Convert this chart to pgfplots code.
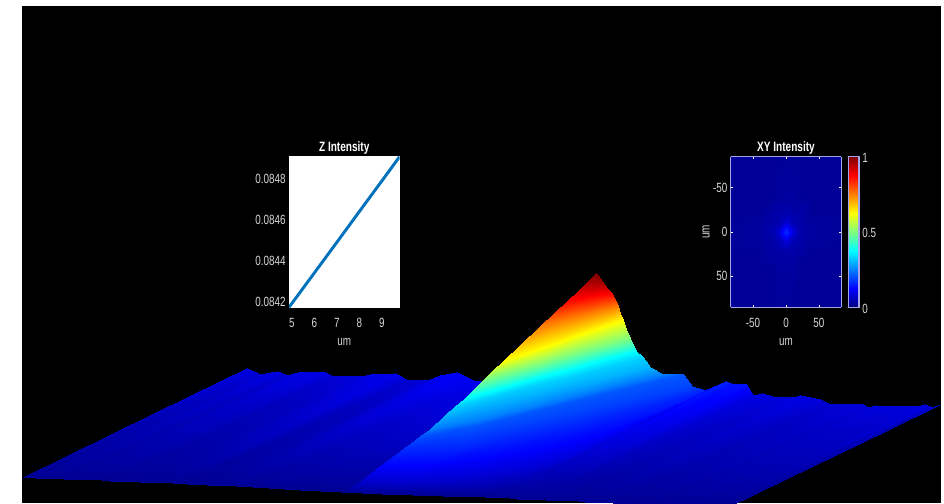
\documentclass[border=0pt]{standalone}
\usepackage{fontspec}
\setmainfont[FakeStretch=0.74]{Liberation Sans}
\usepackage{pgfplots}
\pgfplotsset{compat=1.18}
\definecolor{framelav}{RGB}{165,165,235}
\definecolor{labgrey}{RGB}{215,215,215}
\definecolor{zline}{RGB}{0,114,189}
\pgfplotsset{
  /pgf/number format/assume math mode=true,
  inset/.style={
    scale only axis, anchor=south west,
    every axis title shift=0pt,
    tick label style={font=\fontsize{10}{11}\selectfont, text=labgrey},
    label style={font=\fontsize{10}{11}\selectfont, text=labgrey},
    title style={font=\fontsize{10.2}{11}\selectfont\bfseries, text=white, at={(axis description cs:0.5,1.056)}, anchor=center},
    xlabel style={at={(axis description cs:0.5,-0.232)}, anchor=center},
    xticklabel style={yshift=-4.5pt},
    yticklabel style={xshift=1pt},
  },
}
\begin{document}
\begin{tikzpicture}
\path[use as bounding box] (0,0) rectangle (708pt,377.25pt);
\fill[white] (0,0) rectangle (708pt,377.25pt);
\fill[black] (16.5pt,0) rectangle (705.75pt,372.75pt);
% main surface, in pixel coordinates of the picture
\begin{axis}[
  at={(0,0)}, anchor=south west, scale only axis,
  width=708pt, height=377.25pt,
  xmin=0, xmax=944, ymin=0, ymax=503, zmin=-1, zmax=1,
  y dir=reverse, view={0}{90}, hide axis,
  colormap/jet, point meta min=0, point meta max=1,
]
% floor with its ripples
\addplot3[surf, shader=interp, mesh/cols=36, point meta=explicit] coordinates {
(23,477,0)[.02] (36.2,477.6,0)[.02] (53.5,478.3,0)[.02] (63.6,478.7,0)[.02] (74.8,479.2,0)[.02] (102.2,480.3,0)[.02] (110.4,480.6,0)[.02] (139.8,481.8,0)[.02] (148,482.2,0)[.02] (173.4,483.2,0)[.02] (186.6,483.8,0)[.02] (206.9,484.6,0)[.02] (219.1,485.1,0)[.02] (236.3,485.8,0)[.02] (252.6,486.7,0)[.02] (300.3,489.6,0)[.02] (381.6,493.7,0)[.02] (442.6,496,0)[.02] (488.3,497.3,0)[.02] (509.6,498.2,0)[.02] (516.7,498.6,0)[.02] (529.9,499.1,0)[.02] (537,499.4,0)[.02] (546.2,499.8,0)[.02] (559.4,500.4,0)[.02] (577.7,501.2,0)[.02] (584.8,501.5,0)[.02] (605.1,502.4,0)[.02] (613.2,502.7,0)[.02] (648.8,504,0)[.02] (653.9,504.2,0)[.02] (661,504.5,0)[.02] (703.7,506,0)[.02] (711.8,506.3,0)[.02] (718.9,506.6,0)[.02] (728,506.9,0)[.02]
(112.6,433.4,0)[.045] (125.7,436.2,0)[.04] (142.9,435.4,0)[.05] (153,437.2,0)[.04] (164.1,436.3,0)[.05] (191.3,437,0)[.05] (199.4,438.8,0)[.04] (228.7,439.5,0)[.045] (236.8,438.9,0)[.05] (262,439.1,0)[.06] (275.2,442.3,0)[.04] (295.3,442.8,0)[.045] (307.5,441.1,0)[.055] (324.6,440.3,0)[.065] (340.8,444,0)[.055] (388.2,447,0)[.06] (469,450.2,0)[.06] (529.6,452.8,0)[.06] (575,454.4,0)[.065] (596.2,451.3,0)[.085] (603.2,452.8,0)[.075] (616.3,453.1,0)[.075] (623.4,457.6,0)[.055] (632.5,457.1,0)[.055] (645.6,459,0)[.05] (663.8,459.5,0)[.05] (670.9,458.9,0)[.055] (691.1,461,0)[.05] (699.1,462.8,0)[.045] (734.5,464,0)[.05] (739.5,465.3,0)[.045] (746.6,464.7,0)[.05] (789,466,0)[.05] (797.1,465.4,0)[.055] (804.1,466.8,0)[.045] (813.2,465.7,0)[.035]
(191,395.25,0)[.075] (204.1,399.9,0)[.06] (221.1,397.8,0)[.075] (231.2,400.9,0)[.06] (242.2,398.8,0)[.075] (269.3,399,0)[.075] (277.4,402.2,0)[.06] (306.5,402.5,0)[.065] (314.5,401,0)[.075] (339.6,400.6,0)[.09] (352.7,405.9,0)[.06] (372.7,406.2,0)[.065] (384.8,402.5,0)[.085] (401.8,400.5,0)[.10] (417.9,406.7,0)[.085] (465.1,409.6,0)[.09] (545.4,412.2,0)[.09] (605.7,415,0)[.09] (650.8,416.8,0)[.10] (671.9,410.3,0)[.13] (678.9,412.7,0)[.115] (692,412.8,0)[.115] (699,421.1,0)[.08] (708.1,419.7,0)[.08] (721.1,422.9,0)[.07] (739.2,423,0)[.07] (746.2,421.6,0)[.08] (766.3,424.8,0)[.07] (774.3,427.9,0)[.06] (809.5,429,0)[.07] (814.5,431.3,0)[.06] (821.5,429.9,0)[.07] (863.7,431,0)[.07] (871.7,429.6,0)[.08] (878.7,431.9,0)[.06] (887.8,429.7,0)[.05]
(247,368,0)[.10] (260,374,0)[.08] (277,371,0)[.10] (287,375,0)[.08] (298,372,0)[.10] (325,372,0)[.10] (333,376,0)[.08] (362,376,0)[.09] (370,374,0)[.10] (395,373,0)[.11] (408,380,0)[.08] (428,380,0)[.09] (440,375,0)[.11] (457,372,0)[.12] (473,380,0)[.11] (520,383,0)[.11] (600,385,0)[.11] (660,388,0)[.11] (705,390,0)[.12] (726,381,0)[.16] (733,384,0)[.14] (746,384,0)[.14] (753,395,0)[.10] (762,393,0)[.10] (775,397,0)[.09] (793,397,0)[.09] (800,395,0)[.10] (820,399,0)[.09] (828,403,0)[.08] (863,404,0)[.09] (868,407,0)[.08] (875,405,0)[.09] (917,406,0)[.09] (925,404,0)[.10] (932,407,0)[.08] (941,404,0)[.06]
};
% main peak, rows follow the colour bands
\addplot3[surf, shader=interp, mesh/cols=6, point meta=explicit] coordinates {
(345,492,0)[.02] (376,493,0)[.02] (407,494,0)[.02] (438,495,0)[.02] (469,496,0)[.02] (500,497.5,0)[.02]
(352,487,0)[.05] (390,488,0)[.05] (430,488,0)[.05] (470,487,0)[.05] (510,484,0)[.05] (540,477,0)[.05]
(362,480,0)[.08] (410,481,0)[.08] (460,479,0)[.08] (510,473,0)[.08] (560,463,0)[.08] (600,445,0)[.08]
(380,466,0)[.125] (434,465,0)[.125] (488,458,0)[.125] (542,449,0)[.125] (596,436,0)[.125] (650,417,0)[.125]
(400,451,0)[.16] (461,448,0)[.16] (522,436,0)[.16] (583,423,0)[.16] (644,407,0)[.16] (705,390,0)[.16]
(415,440,0)[.19] (470.4,434,0)[.19] (525.8,423,0)[.19] (581.2,411,0)[.19] (636.6,398,0)[.19] (692,386,0)[.19]
(421,435,0)[.21] (473.4,425.5,0)[.21] (525.8,413,0)[.21] (578.2,400,0)[.21] (630.6,387,0)[.21] (683,374,0)[.21]
(430,429,0)[.25] (476.6,420,0)[.25] (523.2,409,0)[.25] (569.8,397,0)[.25] (616.4,385,0)[.25] (663,374,0)[.25]
(445,415,0)[.30] (486,405.4,0)[.30] (527,395.8,0)[.30] (568,386.2,0)[.30] (609,376.6,0)[.30] (650,367,0)[.30]
(455,406,0)[.33] (492.6,396.2,0)[.33] (530.2,386.4,0)[.33] (567.8,376.6,0)[.33] (605.4,366.8,0)[.33] (643,357,0)[.33]
(465,398,0)[.375] (499.2,388.6,0)[.375] (533.4,379.2,0)[.375] (567.6,369.8,0)[.375] (601.8,360.4,0)[.375] (636,351,0)[.375]
(474.5,388.5,0)[.4375] (506.2,379.7,0)[.4375] (537.9,370.9,0)[.4375] (569.6,362.1,0)[.4375] (601.3,353.3,0)[.4375] (633,344.5,0)[.4375]
(484,379,0)[.5] (513.2,370.8,0)[.5] (542.4,362.6,0)[.5] (571.6,354.4,0)[.5] (600.8,346.2,0)[.5] (630,338,0)[.5]
(493.5,370,0)[.5625] (520.1,361.8,0)[.5625] (546.7,353.6,0)[.5625] (573.3,345.4,0)[.5625] (599.9,337.2,0)[.5625] (626.5,329,0)[.5625]
(503,361,0)[.625] (527,352.8,0)[.625] (551,344.6,0)[.625] (575,336.4,0)[.625] (599,328.2,0)[.625] (623,320,0)[.625]
(521.5,343.5,0)[.6875] (541.3,337.4,0)[.6875] (561.1,331.3,0)[.6875] (580.9,325.2,0)[.6875] (600.7,319.1,0)[.6875] (620.5,313,0)[.6875]
(540,326,0)[.75] (555.6,322,0)[.75] (571.2,318,0)[.75] (586.8,314,0)[.75] (602.4,310,0)[.75] (618,306,0)[.75]
(554.5,312.5,0)[.8125] (566.6,309.9,0)[.8125] (578.7,307.3,0)[.8125] (590.8,304.7,0)[.8125] (602.9,302.1,0)[.8125] (615,299.5,0)[.8125]
(569,299,0)[.875] (577.6,297.8,0)[.875] (586.2,296.6,0)[.875] (594.8,295.4,0)[.875] (603.4,294.2,0)[.875] (612,293,0)[.875]
(577,291.5,0)[.9125] (583.2,290.9,0)[.9125] (589.4,290.3,0)[.9125] (595.6,289.7,0)[.9125] (601.8,289.1,0)[.9125] (608,288.5,0)[.9125]
(585,284,0)[.95] (588.8,284,0)[.95] (592.6,284,0)[.95] (596.4,284,0)[.95] (600.2,284,0)[.95] (604,284,0)[.95]
(594,275,0)[1] (594.8,274,0)[1] (595.6,273,0)[1] (596.4,273,0)[1] (597.2,274,0)[1] (598,275,0)[1]
};
\end{axis}
% Z intensity inset
\begin{axis}[
  inset, at={(216.75pt,146.8pt)},
  width=82.9pt, height=112.9pt,
  xmin=4.87, xmax=9.78, ymin=0.084176, ymax=0.084909,
  axis background/.style={fill=white},
  axis line style={white}, major tick length=0pt,
  xtick={5,6,7,8,9},
  ytick={0.0842,0.0844,0.0846,0.0848},
  yticklabels={0.0842,0.0844,0.0846,0.0848},
  scaled y ticks=false,
  title={Z Intensity}, xlabel={um},
]
\addplot[zline, line width=2.2pt] coordinates {
  (4.87,0.084176) (5,0.084195) (6,0.084344) (7,0.084493) (8,0.084643) (9,0.084792) (9.78,0.084909)
};
\end{axis}
% XY intensity inset
\begin{axis}[
  inset, at={(548pt,146.8pt)},
  width=83pt, height=112.9pt,
  xmin=-84, xmax=84, ymin=-85, ymax=85, zmin=-1, zmax=1,
  y dir=reverse, view={0}{90},
  axis line style={framelav, line width=0.9pt},
  tick style={white, line width=0.4pt}, major tick length=1.5pt, tick align=inside,
  xtick={-50,0,50}, ytick={-50,0,50}, ztick=\empty,
  title={XY Intensity}, xlabel={um}, ylabel={um},
  ylabel style={at={(axis description cs:-0.222,0.5)}, anchor=center},
  colormap/jet, point meta min=0, point meta max=1,
  colorbar,
  colorbar shift/.style={xshift=4.8pt},
  colorbar style={
    width=8pt, ytick={0,0.5,1},
    axis line style={framelav, line width=0.9pt},
    major tick length=0pt,
    yticklabel style={font=\fontsize{10}{11}\selectfont, text=labgrey, xshift=-1pt, yshift=-1pt},
  },
]
\addplot3[surf, shader=interp, mesh/cols=11, point meta=explicit] coordinates {
(-84,-85,0)[.025] (-40,-85,0)[.025] (-20,-85,0)[.025] (-10,-85,0)[.025] (-5,-85,0)[.025] (0,-85,0)[.025] (5,-85,0)[.025] (10,-85,0)[.025] (20,-85,0)[.025] (40,-85,0)[.025] (84,-85,0)[.025]
(-84,-40,0)[.025] (-40,-40,0)[.025] (-20,-40,0)[.025] (-10,-40,0)[.03] (-5,-40,0)[.03] (0,-40,0)[.03] (5,-40,0)[.03] (10,-40,0)[.03] (20,-40,0)[.025] (40,-40,0)[.025] (84,-40,0)[.025]
(-84,-20,0)[.025] (-40,-20,0)[.025] (-20,-20,0)[.04] (-10,-20,0)[.04] (-5,-20,0)[.045] (0,-20,0)[.045] (5,-20,0)[.045] (10,-20,0)[.04] (20,-20,0)[.04] (40,-20,0)[.025] (84,-20,0)[.025]
(-84,-10,0)[.025] (-40,-10,0)[.03] (-20,-10,0)[.04] (-10,-10,0)[.05] (-5,-10,0)[.07] (0,-10,0)[.09] (5,-10,0)[.07] (10,-10,0)[.05] (20,-10,0)[.04] (40,-10,0)[.03] (84,-10,0)[.025]
(-84,-5,0)[.025] (-40,-5,0)[.03] (-20,-5,0)[.045] (-10,-5,0)[.07] (-5,-5,0)[.115] (0,-5,0)[.14] (5,-5,0)[.115] (10,-5,0)[.07] (20,-5,0)[.04] (40,-5,0)[.03] (84,-5,0)[.025]
(-84,0,0)[.025] (-40,0,0)[.03] (-20,0,0)[.045] (-10,0,0)[.09] (-5,0,0)[.14] (0,0,0)[.17] (5,0,0)[.14] (10,0,0)[.09] (20,0,0)[.045] (40,0,0)[.03] (84,0,0)[.025]
(-84,5,0)[.025] (-40,5,0)[.03] (-20,5,0)[.04] (-10,5,0)[.07] (-5,5,0)[.115] (0,5,0)[.14] (5,5,0)[.115] (10,5,0)[.07] (20,5,0)[.045] (40,5,0)[.03] (84,5,0)[.025]
(-84,10,0)[.025] (-40,10,0)[.03] (-20,10,0)[.04] (-10,10,0)[.05] (-5,10,0)[.07] (0,10,0)[.09] (5,10,0)[.07] (10,10,0)[.05] (20,10,0)[.04] (40,10,0)[.03] (84,10,0)[.025]
(-84,20,0)[.025] (-40,20,0)[.025] (-20,20,0)[.035] (-10,20,0)[.04] (-5,20,0)[.04] (0,20,0)[.04] (5,20,0)[.04] (10,20,0)[.04] (20,20,0)[.035] (40,20,0)[.025] (84,20,0)[.025]
(-84,40,0)[.025] (-40,40,0)[.025] (-20,40,0)[.025] (-10,40,0)[.03] (-5,40,0)[.03] (0,40,0)[.03] (5,40,0)[.03] (10,40,0)[.03] (20,40,0)[.025] (40,40,0)[.025] (84,40,0)[.025]
(-84,85,0)[.025] (-40,85,0)[.025] (-20,85,0)[.025] (-10,85,0)[.025] (-5,85,0)[.025] (0,85,0)[.025] (5,85,0)[.025] (10,85,0)[.025] (20,85,0)[.025] (40,85,0)[.025] (84,85,0)[.025]
};
\end{axis}
\end{tikzpicture}
\end{document}
